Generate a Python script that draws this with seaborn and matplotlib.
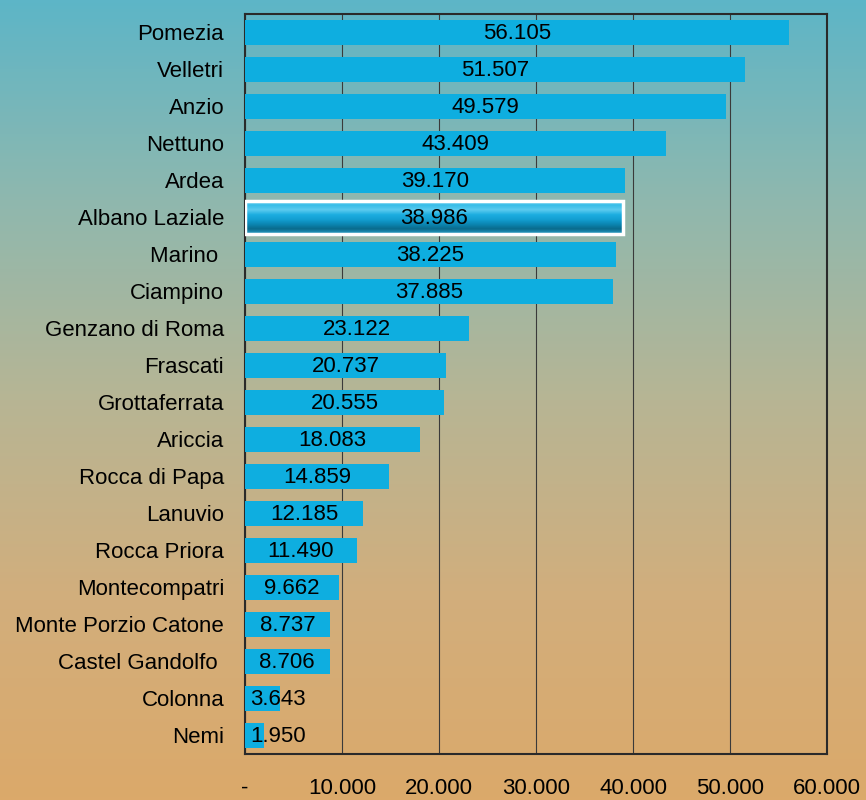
import numpy as np
import pandas as pd
import matplotlib.pyplot as plt
import seaborn as sns
from matplotlib.colors import LinearSegmentedColormap
from matplotlib.ticker import FixedLocator

# dati
comuni = ["Pomezia", "Velletri", "Anzio", "Nettuno", "Ardea", "Albano Laziale",
          "Marino ", "Ciampino", "Genzano di Roma", "Frascati", "Grottaferrata",
          "Ariccia", "Rocca di Papa", "Lanuvio", "Rocca Priora", "Montecompatri",
          "Monte Porzio Catone", "Castel Gandolfo ", "Colonna", "Nemi"]
abitanti = [56105, 51507, 49579, 43409, 39170, 38986, 38225, 37885, 23122, 20737,
            20555, 18083, 14859, 12185, 11490, 9662, 8737, 8706, 3643, 1950]
evidenziato = "Albano Laziale"
xticks = [0, 10000, 20000, 30000, 40000, 50000, 60000]
xtick_labels = ["-", "10.000", "20.000", "30.000", "40.000", "50.000", "60.000"]

df = pd.DataFrame({"Comune": comuni, "Abitanti": abitanti})

sns.set_style("white")
plt.rcParams["font.family"] = ["Liberation Sans", "DejaVu Sans"]
plt.rcParams["text.color"] = "black"
plt.rcParams["xtick.color"] = "black"
plt.rcParams["ytick.color"] = "black"

fig = plt.figure(figsize=(8.66, 8), dpi=100)

# sfondo sfumato
bg = fig.add_axes([0, 0, 1, 1], zorder=-10)
bg_cmap = LinearSegmentedColormap.from_list(
    "bg", ["#5db5c7", "#8fb8ae", "#b7b594", "#d2ae7c", "#dba96a"])
bg.imshow(np.linspace(0, 1, 256).reshape(-1, 1), aspect="auto", cmap=bg_cmap,
          extent=[0, 1, 0, 1], origin="upper")
bg.axis("off")

ax = fig.add_axes([0.283, 0.0575, 0.672, 0.925])
ax.patch.set_alpha(0)

sns.barplot(data=df, x="Abitanti", y="Comune", orient="h", color="#0eaee0",
            saturation=1, width=0.65, linewidth=0, ax=ax, zorder=3)

# barra evidenziata
idx = comuni.index(evidenziato)
p = ax.patches[idx]
cy = p.get_y() + p.get_height() / 2
p.set_height(0.9)
p.set_y(cy - 0.45)
p.set_edgecolor("white")
p.set_linewidth(2.5)
bar_cmap = LinearSegmentedColormap.from_list(
    "bar", ["#7fd6f2", "#38bde8", "#5ccbef", "#1cade0", "#139fd2", "#0c86b2", "#0a6b8c", "#2aa0c8"])
im = ax.imshow(np.linspace(0, 1, 64).reshape(-1, 1), aspect="auto", cmap=bar_cmap,
               extent=[p.get_x(), p.get_x() + p.get_width(), p.get_y() + p.get_height(), p.get_y()],
               zorder=3.5, origin="upper")
im.set_clip_path(p)
p.set_zorder(4)
p.set_facecolor("none")

# etichette
for i, v in enumerate(abitanti):
    lab = f"{v:,}".replace(",", ".")
    ax.text(max(v / 2, 3400), i + 0.04, lab, ha="center", va="center", fontsize=16,
            color="black", zorder=5)

ax.set_xlim(0, 60000)
ax.set_ylim(len(comuni) - 0.5, -0.5)
ax.set_xticks(xticks)
ax.set_xticklabels(xtick_labels, fontsize=16)
ax.tick_params(axis="x", direction="out", length=6, width=1.5, pad=11, color="#222222")
ax.tick_params(axis="y", which="major", length=0, pad=15, labelsize=16)
ax.yaxis.set_minor_locator(FixedLocator(np.arange(-0.5, len(comuni), 1)))
ax.tick_params(axis="y", which="minor", direction="out", length=5, width=1.5, color="#222222")
ax.set_xlabel("")
ax.set_ylabel("")
ax.grid(axis="x", color="#3a3a3a", linewidth=0.8, zorder=0)
ax.set_axisbelow(True)
for s in ax.spines.values():
    s.set_visible(True)
    s.set_color("#2a2a2a")
    s.set_linewidth(1.5)

plt.savefig("out.png", dpi=100)
